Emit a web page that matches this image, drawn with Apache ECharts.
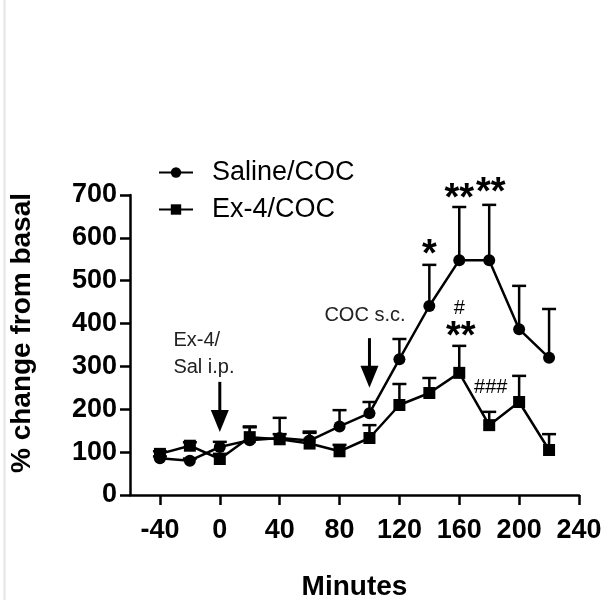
<!DOCTYPE html>
<html>
<head>
<meta charset="utf-8">
<script src="https://cdn.jsdelivr.net/npm/echarts@6/dist/echarts.min.js"></script>
<style>
html,body{margin:0;padding:0;background:#fff;}
#chart{width:607px;height:608px;}
</style>
</head>
<body>
<div id="chart"></div>
<script>
// ---- data ----
var minutes   = [-40, -20, 0, 20, 40, 60, 80, 100, 120, 140, 160, 180, 200, 220];
var saline    = [86, 80, 112, 128, 133, 127, 160, 191, 317, 441, 548, 548, 387, 320];
var salineErr = [4, 5, 12, 30, 47, 18, 38, 26, 47, 96, 124, 129, 101, 114];
var ex4       = [96, 115, 84, 135, 130, 120, 102, 133, 210, 238, 285, 163, 217, 105];
var ex4Err    = [6, 8, 12, 25, 12, 28, 15, 30, 49, 35, 63, 31, 61, 37];
var xTicks    = [-40, 0, 40, 80, 120, 160, 200, 240];
var seriesNames = ['Saline/COC', 'Ex-4/COC'];
// significance markers [minute, value, text]
var sigX    = [140, 160, 181, 161, 160, 181];
var sigY    = [583, 712, 726, 390, 436, 252];
var sigText = ['*', '**', '**', '**', '#', '###'];
// injection arrows [minute, fromValue, toValue]
var arrowX    = [0, 100];
var arrowFrom = [264, 366];
var arrowTo   = [147, 250];
// annotation texts
var noteX    = [-31, 97];
var noteY    = [392, 420];
var noteText = ['Ex-4/\nSal i.p.', 'COC s.c.'];

var FONT = "'Liberation Sans', Arial, sans-serif";

function pairs(xs, ys) { return xs.map(function (x, i) { return [x, ys[i]]; }); }
function errData(xs, ys, es) { return xs.map(function (x, i) { return [x, ys[i], ys[i] + es[i]]; }); }

function errRender(params, api) {
  var p0 = api.coord([api.value(0), api.value(1)]);
  var p1 = api.coord([api.value(0), api.value(2)]);
  var st = {stroke: '#000', lineWidth: 2.5};
  return {type: 'group', children: [
    {type: 'line', shape: {x1: p0[0], y1: p0[1], x2: p1[0], y2: p1[1]}, style: st},
    {type: 'line', shape: {x1: p1[0] - 7, y1: p1[1], x2: p1[0] + 7, y2: p1[1]}, style: st}
  ]};
}

function arrowRender(params, api) {
  var p0 = api.coord([api.value(0), api.value(1)]);
  var p1 = api.coord([api.value(0), api.value(2)]);
  var headH = 22, headW = 9;
  return {type: 'group', children: [
    {type: 'line', shape: {x1: p0[0], y1: p0[1], x2: p1[0], y2: p1[1] - headH + 2}, style: {stroke: '#000', lineWidth: 3}},
    {type: 'polygon', shape: {points: [[p1[0] - headW, p1[1] - headH], [p1[0] + headW, p1[1] - headH], [p1[0], p1[1]]]}, style: {fill: '#000'}}
  ]};
}

function textRender(params, api) {
  var p = api.coord([api.value(0), api.value(1)]);
  var i = params.dataIndex;
  var txt = params.seriesName === 'sig' ? sigText[i] : noteText[i];
  if (params.seriesName === 'sig') {
    var isStar = txt.indexOf('*') >= 0;
    return {type: 'text', x: p[0], y: p[1] + (isStar ? 10 : 0), style: {
      text: txt, fill: '#000', align: 'center', verticalAlign: 'middle',
      font: (isStar ? 'bold 38px ' : '20px ') + FONT
    }};
  }
  return {type: 'text', x: p[0], y: p[1], style: {
    text: txt, fill: '#222', align: i === 0 ? 'left' : 'center', verticalAlign: i === 0 ? 'top' : 'middle',
    font: '20px ' + FONT, lineHeight: 27
  }};
}

var chart = echarts.init(document.getElementById('chart'));
chart.setOption({
  backgroundColor: '#fff',
  animation: false,
  textStyle: {fontFamily: FONT},
  grid: {left: 130, right: 28, top: 195, bottom: 113},
  legend: {
    data: seriesNames, orient: 'vertical', left: 153, top: 154,
    itemWidth: 34, itemHeight: 13, itemGap: 10,
    textStyle: {fontSize: 27, color: '#000', padding: [0, 0, 0, 14], lineHeight: 27, fontFamily: FONT}
  },
  xAxis: {
    type: 'value', min: -60, max: 240,
    name: 'Minutes', nameLocation: 'middle', nameGap: 78,
    nameTextStyle: {fontSize: 28, fontWeight: 'bold', color: '#000', fontFamily: FONT},
    axisLine: {onZero: false, lineStyle: {color: '#000', width: 2.5}},
    axisTick: {length: 10, lineStyle: {color: '#000', width: 2.5}, customValues: xTicks},
    axisLabel: {fontSize: 27, fontWeight: 'bold', color: '#000', margin: 22, customValues: xTicks, fontFamily: FONT},
    splitLine: {show: false}
  },
  yAxis: {
    type: 'value', min: 0, max: 700, interval: 100,
    name: '% change from basal', nameLocation: 'middle', nameGap: 94,
    nameTextStyle: {fontSize: 28, fontWeight: 'bold', color: '#000', fontFamily: FONT, padding: [0, 0, 0, 24]},
    axisLine: {show: true, onZero: false, lineStyle: {color: '#000', width: 2.5}},
    axisTick: {show: true, length: 10, lineStyle: {color: '#000', width: 2.5}},
    axisLabel: {fontSize: 27, fontWeight: 'bold', color: '#000', margin: 13, fontFamily: FONT},
    splitLine: {show: false}
  },
  series: [
    {name: 'errS', type: 'custom', renderItem: errRender, data: errData(minutes, saline, salineErr), z: 1},
    {name: 'errE', type: 'custom', renderItem: errRender, data: errData(minutes, ex4, ex4Err), z: 1},
    {name: seriesNames[0], type: 'line', data: pairs(minutes, saline), symbol: 'circle', symbolSize: 12,
      itemStyle: {color: '#000'}, lineStyle: {color: '#000', width: 2.5}, z: 3},
    {name: seriesNames[1], type: 'line', data: pairs(minutes, ex4), symbol: 'rect', symbolSize: 12,
      itemStyle: {color: '#000'}, lineStyle: {color: '#000', width: 2.5}, z: 3},
    {name: 'arrows', type: 'custom', renderItem: arrowRender, data: arrowX.map(function (x, i) { return [x, arrowFrom[i], arrowTo[i]]; }), z: 2},
    {name: 'sig', type: 'custom', renderItem: textRender, clip: false, data: pairs(sigX, sigY), z: 4},
    {name: 'notes', type: 'custom', renderItem: textRender, clip: false, data: pairs(noteX, noteY), z: 4}
  ],
  graphic: [{type: 'line', shape: {x1: 4.5, y1: 0, x2: 4.5, y2: 600}, style: {stroke: '#e4e4e4', lineWidth: 2}}]
});
</script>
</body>
</html>
